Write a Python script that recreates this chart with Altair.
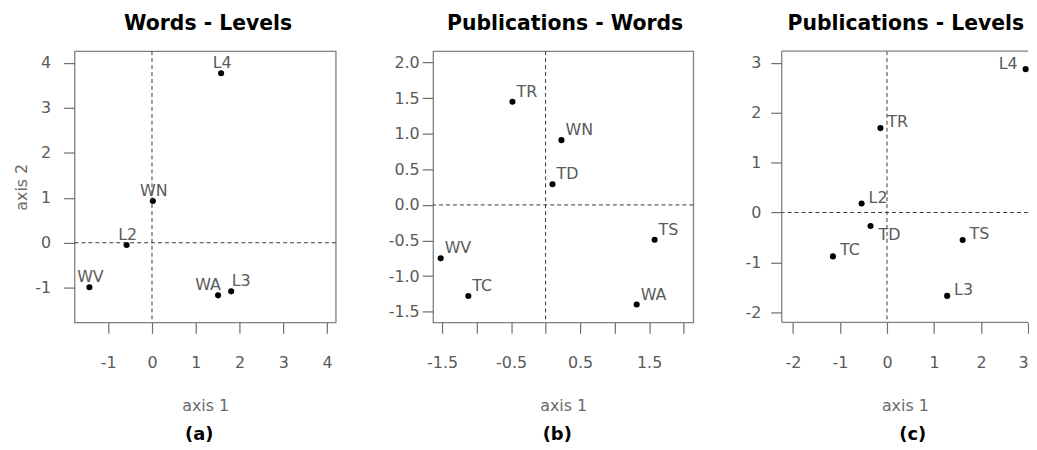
import altair as alt
import pandas as pd

# ---- data ----
A_LABELS = ["L4", "WN", "L2", "WV", "WA", "L3"]
A_X = [1.58, 0.02, -0.58, -1.43, 1.51, 1.81]
A_Y = [3.77, 0.93, -0.05, -0.99, -1.17, -1.08]

B_LABELS = ["TR", "WN", "TD", "TS", "WV", "TC", "WA"]
B_X = [-0.48, 0.23, 0.10, 1.58, -1.52, -1.12, 1.32]
B_Y = [1.45, 0.91, 0.29, -0.49, -0.75, -1.28, -1.40]

C_LABELS = ["L4", "TR", "L2", "TD", "TC", "TS", "L3"]
C_X = [2.95, -0.14, -0.54, -0.35, -1.15, 1.61, 1.28]
C_Y = [2.87, 1.69, 0.18, -0.27, -0.88, -0.55, -1.67]

A_XTICKS = [-1, 0, 1, 2, 3, 4]
A_YTICKS = [-1, 0, 1, 2, 3, 4]
B_XTICKS = [-1.5, -1.0, -0.5, 0.0, 0.5, 1.0, 1.5, 2.0]
B_YTICKS = [-1.5, -1.0, -0.5, 0.0, 0.5, 1.0, 1.5, 2.0]
C_XTICKS = [-2, -1, 0, 1, 2, 3]
C_YTICKS = [-2, -1, 0, 1, 2, 3]

FONT = "DejaVu Sans"
BOX = "#808080"
TICK = "#6e6e6e"
LABEL = "#5a5a5a"
DASH = "#3a3a3a"

INT_EXPR = "'' + datum.value"
DEC_EXPR = "(datum.value < 0 ? '-' : '') + format(abs(datum.value), '.1f')"
ODD_EXPR = "abs(datum.value * 2) % 2 == 1 ? (datum.value < 0 ? '-' : '') + format(abs(datum.value), '.1f') : ''"


def make_panel(labels, xs, ys, xdom, ydom, xticks, yticks, xexpr, yexpr,
               width, height, title, caption, groups, ytitle, ylabpad, cut_right,
               title_dx, cap_dx, xflush):
    df = pd.DataFrame({"label": labels, "x": xs, "y": ys})
    one = pd.DataFrame({"o": [0]})

    xaxis = alt.Axis(values=xticks, tickCount=20, labelExpr=xexpr, tickSize=11,
                     labelPadding=21, domain=False, grid=False, labelFlush=xflush,
                     labelOverlap=False, titlePadding=28)
    yaxis = alt.Axis(values=yticks, tickCount=20, labelExpr=yexpr, tickSize=11,
                     labelPadding=ylabpad, domain=False, grid=False, labelFlush=False,
                     labelOverlap=False, titlePadding=5)

    xscale = alt.Scale(domain=xdom, nice=False, zero=False)
    yscale = alt.Scale(domain=ydom, nice=False, zero=False)
    X = alt.X("x:Q", scale=xscale, axis=xaxis, title="axis 1")
    if ytitle:
        Y = alt.Y("y:Q", scale=yscale, axis=yaxis, title=ytitle)
    else:
        Y = alt.Y("y:Q", scale=yscale, axis=yaxis, title=None)

    pts = alt.Chart(df).mark_circle(color="black", size=38, opacity=1).encode(x=X, y=Y)

    vline = alt.Chart(one).mark_rule(color=DASH, strokeDash=[4, 3], strokeWidth=1).encode(x=alt.datum(0))
    hline = alt.Chart(one).mark_rule(color=DASH, strokeDash=[4, 3], strokeWidth=1).encode(y=alt.datum(0))

    layers = [pts, vline, hline]
    for names, align, dx, dy in groups:
        layers.append(
            alt.Chart(df)
            .transform_filter(alt.FieldOneOfPredicate(field="label", oneOf=names))
            .mark_text(align=align, baseline="middle", dx=dx, dy=dy, font=FONT,
                       fontSize=16, color=LABEL)
            .encode(x=X, y=Y, text="label:N")
        )

    props = dict(width=width, height=height,
                 title=alt.Title(title, anchor="middle", frame="group", font=FONT,
                                 fontSize=20.5, fontWeight="bold", color="black",
                                 offset=16, dx=title_dx))
    if cut_right:
        edge = dict(color=BOX, strokeWidth=1.3)
        layers.append(alt.Chart(one).mark_rule(**edge).encode(y=alt.datum(ydom[1])))
        layers.append(alt.Chart(one).mark_rule(**edge).encode(y=alt.datum(ydom[0])))
        layers.append(alt.Chart(one).mark_rule(**edge).encode(x=alt.datum(xdom[0])))
        props["view"] = alt.ViewBackground(strokeOpacity=0)

    layer = alt.layer(*layers).properties(**props)
    return alt.vconcat(
        layer,
        title=alt.Title(caption, orient="bottom", anchor="middle", frame="group",
                        font=FONT, fontSize=18, fontWeight="bold", color="black",
                        offset=12, dx=width / 2 + cap_dx),
    )


pa = make_panel(A_LABELS, A_X, A_Y, [-1.77, 4.2], [-1.77, 4.26], A_XTICKS, A_YTICKS,
                INT_EXPR, INT_EXPR, 263, 273, "Words - Levels", "(a)",
                [(["L4", "WN", "L2", "WV"], "center", 1, -10),
                 (["WA"], "center", -10, -10),
                 (["L3"], "center", 10, -10)],
                "axis 2", 13, False, 3, -6, False)

pb = make_panel(B_LABELS, B_X, B_Y, [-1.63, 2.14], [-1.65, 2.16], B_XTICKS, B_YTICKS,
                ODD_EXPR, DEC_EXPR, 262, 273, "Publications - Words", "(b)",
                [(B_LABELS, "left", 4, -10)],
                None, 3, False, 2, -6, False)

pc = make_panel(C_LABELS, C_X, C_Y, [-2.24, 3.0], [-2.2, 3.23], C_XTICKS, C_YTICKS,
                INT_EXPR, INT_EXPR, 248, 273, "Publications - Levels", "(c)",
                [(["TR", "L2", "TC", "TS", "L3"], "left", 7, -6),
                 (["TD"], "left", 8, 9),
                 (["L4"], "right", -8, -5)],
                None, 10, True, 1, 8, 1)

chart = (
    alt.hconcat(pa, pb, pc, spacing=50)
    .properties(padding={"left": 5, "top": 4, "right": 0, "bottom": 0})
    .configure_view(stroke=BOX, strokeWidth=1.3)
    .configure_axis(labelFont=FONT, labelFontSize=16, labelColor=LABEL,
                    tickColor=TICK, tickWidth=1.2, titleFont=FONT, titleFontSize=16,
                    titleFontWeight="normal", titleColor="#6a6a6a",
                    labelOverlap=False)
)

chart.save("out.html", embed_options={"renderer": "svg", "actions": False})
